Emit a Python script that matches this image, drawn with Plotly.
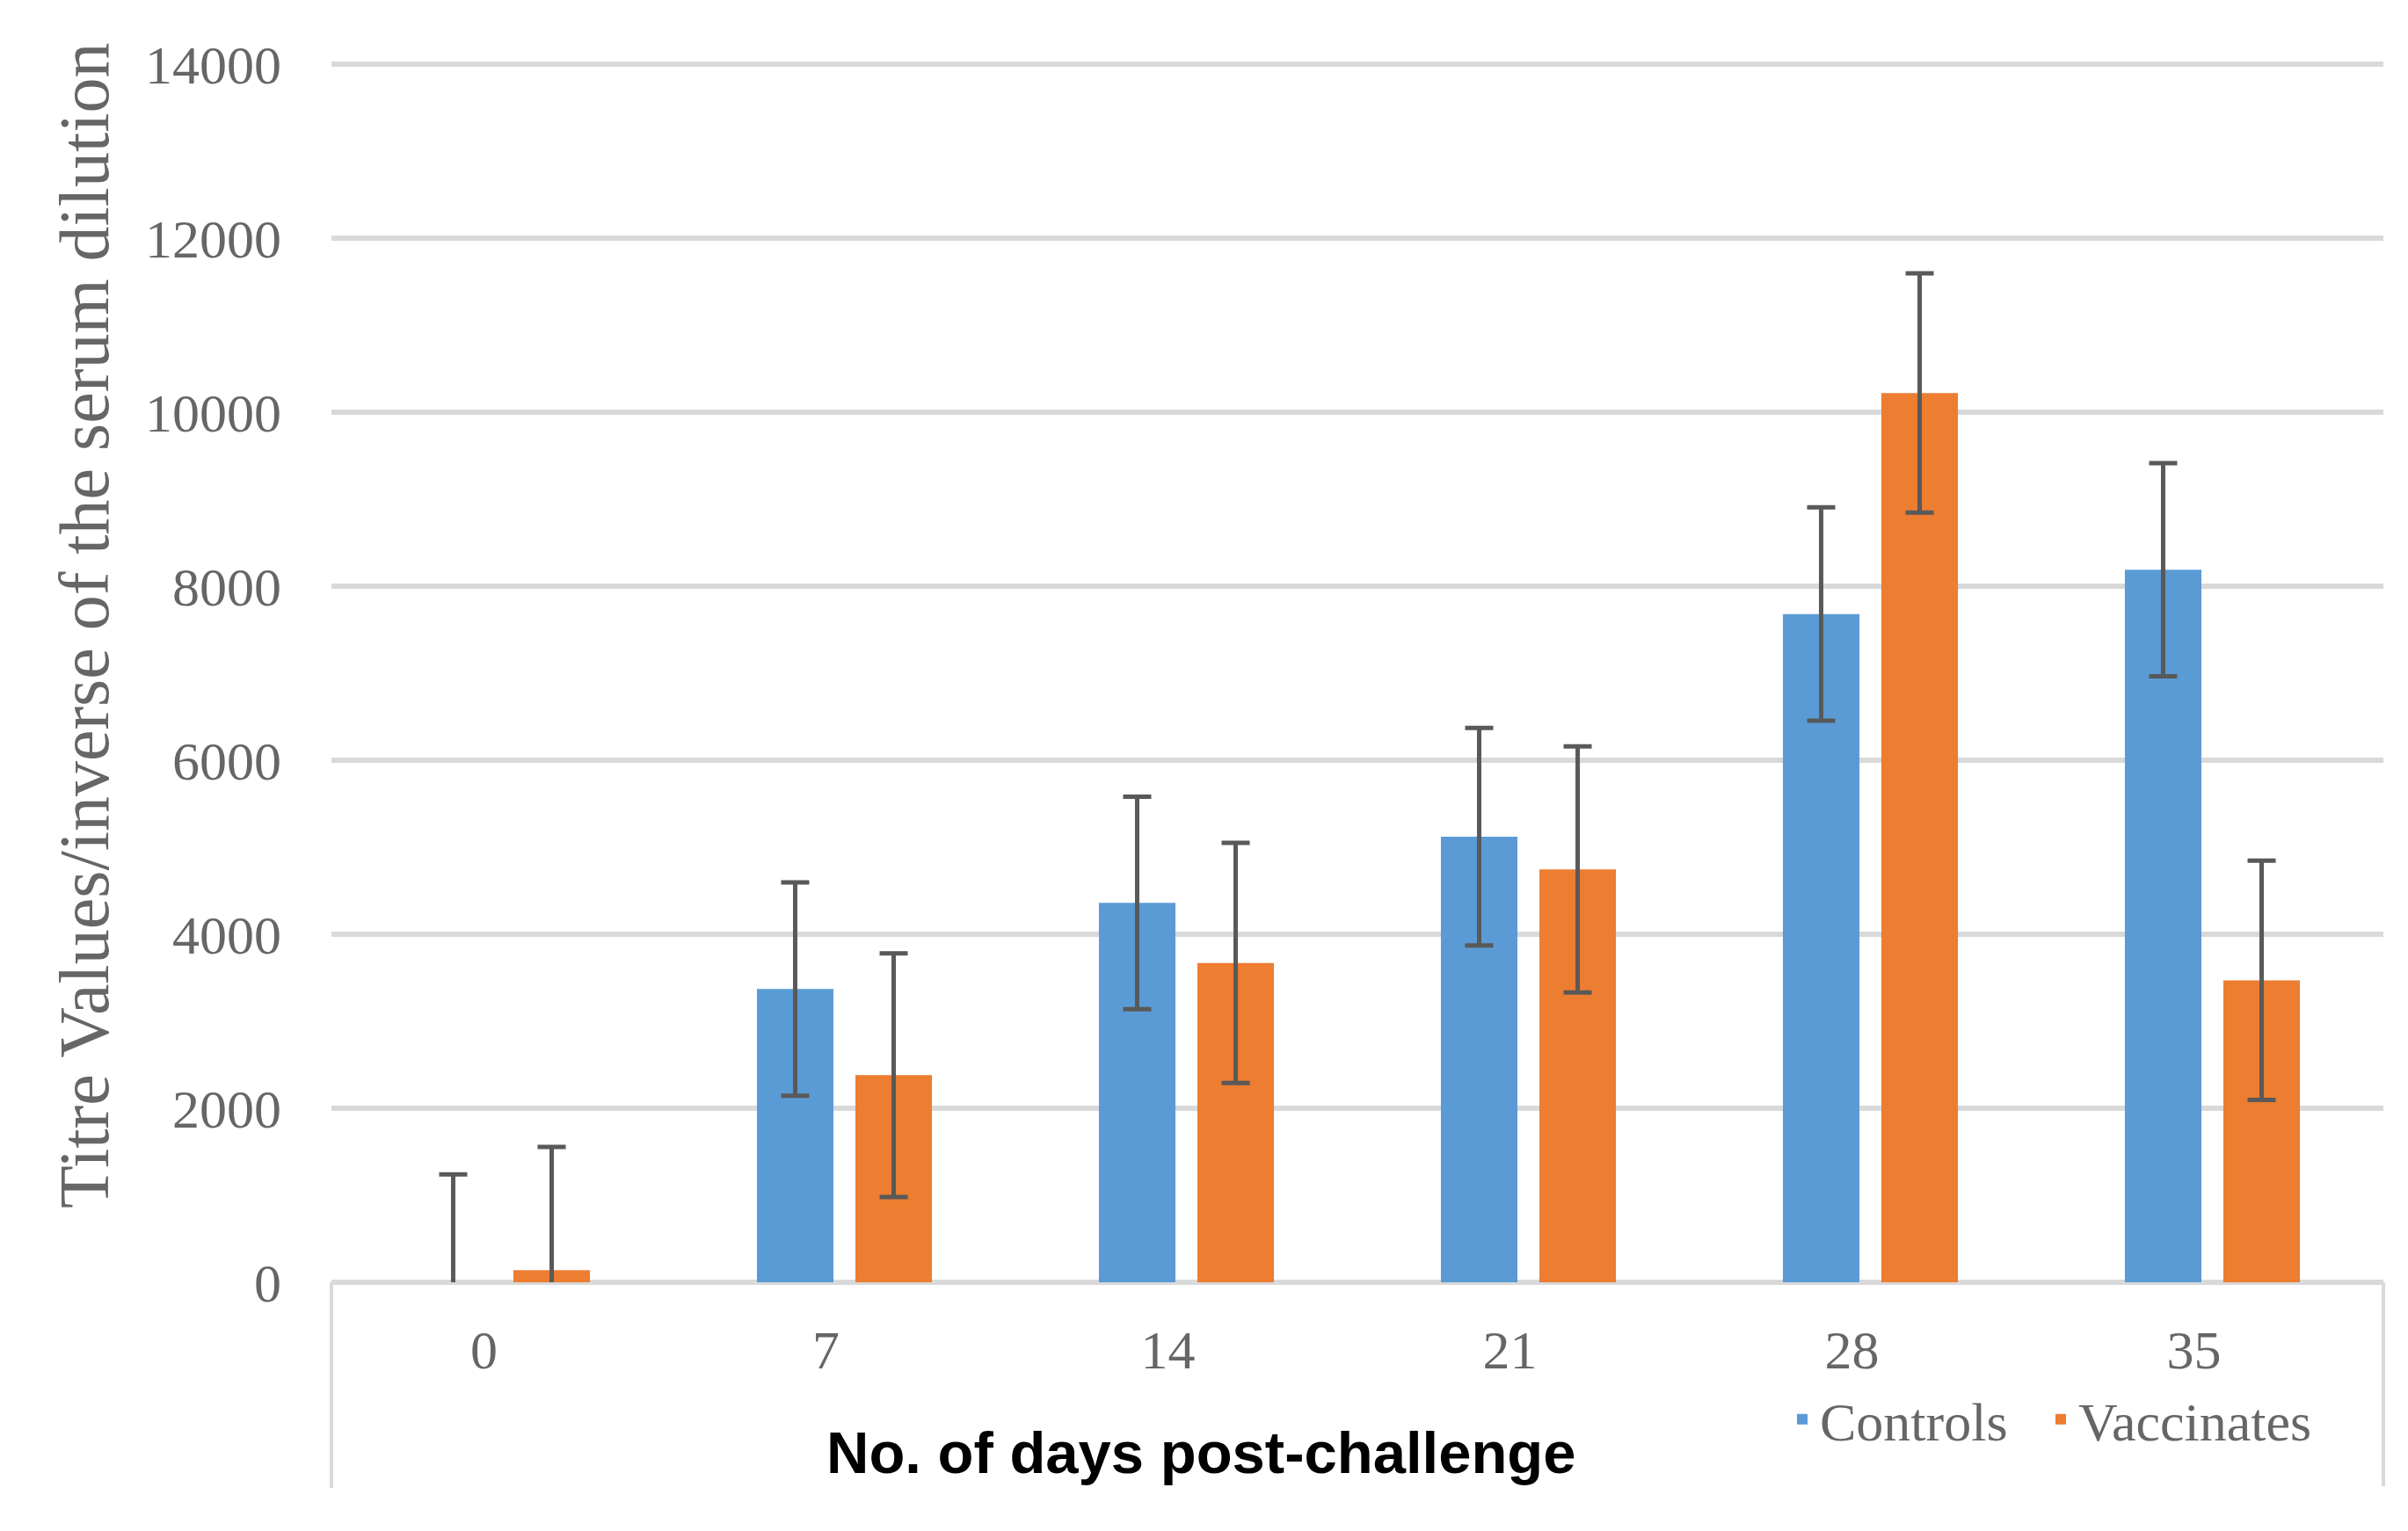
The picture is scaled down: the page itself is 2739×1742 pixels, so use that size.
import plotly.graph_objects as go

days = ["0", "7", "14", "21", "28", "35"]
controls = [0, 3370, 4360, 5120, 7680, 8190]
controls_err = [1240, 1225, 1220, 1250, 1225, 1225]
vaccinates = [140, 2380, 3670, 4745, 10220, 3470]
vaccinates_err = [1415, 1400, 1380, 1415, 1375, 1375]
y_ticks = [0, 2000, 4000, 6000, 8000, 10000, 12000, 14000]

# page body has an 8px default margin; figure is sized to fit inside it
OFF = 8
FW, FH = 2739 - 2 * OFF, 1742 - 2 * OFF
L, R, T, B = 369, 20, 60, 275
pw, ph = FW - L - R, FH - T - B
YMAX = 14050

def px_x(x):
    return (x - OFF - L) / pw

def px_y(y):
    return (FH - B - (y - OFF)) / ph

serif = "Liberation Serif, Times New Roman, serif"
grey = "#666666"
err_col = "#595959"

fig = go.Figure()
fig.add_trace(go.Bar(
    x=days, y=controls, name="Controls", legend="legend",
    marker=dict(color="#5B9BD5", line=dict(width=0)),
    error_y=dict(type="data", array=controls_err, visible=True,
                 color=err_col, thickness=5, width=16),
))
fig.add_trace(go.Bar(
    x=days, y=vaccinates, name="Vaccinates", legend="legend2",
    marker=dict(color="#ED7D31", line=dict(width=0)),
    error_y=dict(type="data", array=vaccinates_err, visible=True,
                 color=err_col, thickness=5, width=16),
))

leg_common = dict(orientation="h", xanchor="left", yanchor="middle",
                  font=dict(family=serif, size=62, color=grey),
                  bgcolor="rgba(0,0,0,0)")

fig.update_layout(
    width=FW, height=FH,
    margin=dict(l=L, r=R, t=T, b=B, pad=0),
    paper_bgcolor="white", plot_bgcolor="white",
    barmode="group", bargap=0.424, bargroupgap=0.223,
    font=dict(family=serif, size=62, color=grey),
    showlegend=True,
    legend=dict(x=px_x(2030), y=px_y(1615), **leg_common),
    legend2=dict(x=px_x(2324), y=px_y(1615), **leg_common),
    xaxis=dict(type="category", showgrid=False, showline=False,
               zeroline=False, ticks="", ticklabelstandoff=35,
               ticklabelshift=-21,
               tickfont=dict(family=serif, size=62, color=grey)),
    yaxis=dict(range=[0, YMAX], tickvals=y_ticks, tickformat="d",
               showgrid=True, gridcolor="#d9d9d9", gridwidth=6,
               zeroline=True, zerolinecolor="#d9d9d9", zerolinewidth=6,
               showline=False, ticks="", ticklabelstandoff=56,
               tickfont=dict(family=serif, size=62, color=grey)),
    annotations=[
        dict(text="Titre Values/inverse of the serum dilution",
             xref="paper", yref="paper", x=px_x(96), y=px_y(712),
             xanchor="center", yanchor="middle", textangle=-90,
             showarrow=False,
             font=dict(family=serif, size=80, color=grey)),
        dict(text="<b>No. of days post-challenge</b>",
             xref="paper", yref="paper", x=px_x(1366), y=px_y(1652),
             xanchor="center", yanchor="middle", showarrow=False,
             font=dict(family="Liberation Sans, Arial, sans-serif",
                       size=67, color="#000000")),
    ],
    shapes=[
        dict(type="line", xref="paper", yref="paper", x0=0, x1=0,
             y0=0, y1=px_y(1693), line=dict(color="#d9d9d9", width=4)),
        dict(type="line", xref="paper", yref="paper", x0=1, x1=1,
             y0=0, y1=px_y(1691), line=dict(color="#d9d9d9", width=4)),
    ],
)

fig.write_html("out.html")
